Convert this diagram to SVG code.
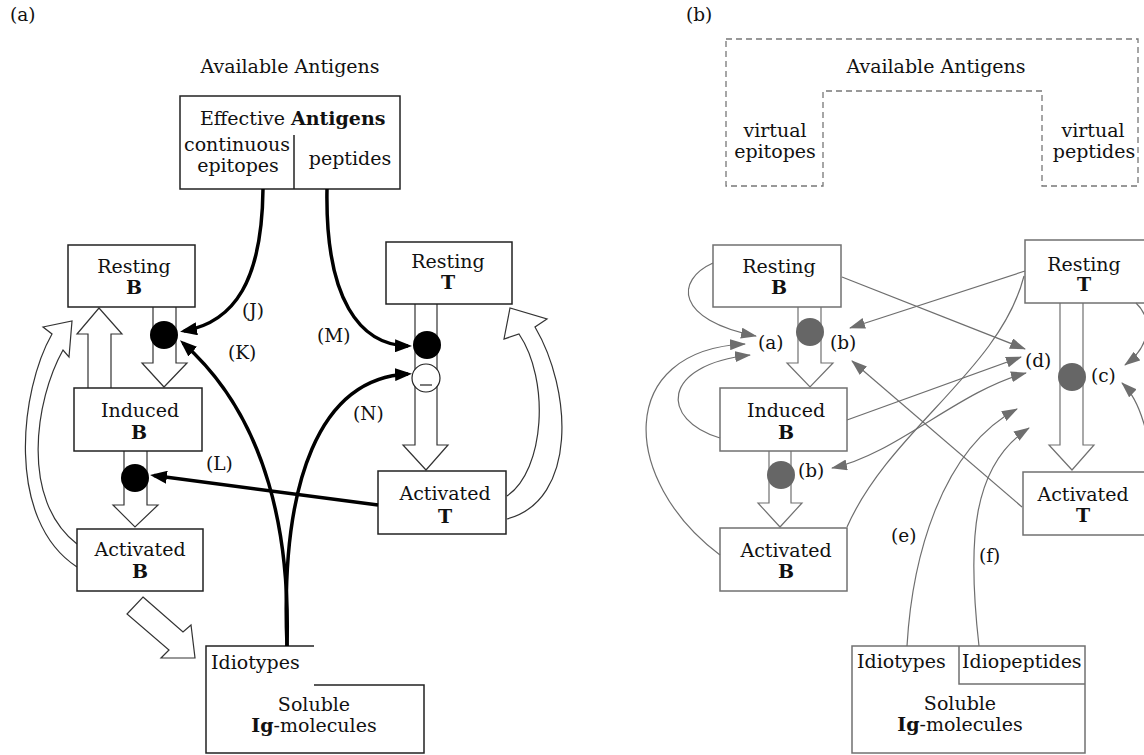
<svg xmlns="http://www.w3.org/2000/svg" width="1144" height="755" viewBox="0 0 1144 755">
<style>
.t{font-family:"DejaVu Serif",serif;font-size:19px;fill:#111}
.c{text-anchor:middle}
.lbl{font-size:18.5px}
.b{font-weight:bold}
.box{fill:#fff;stroke:#222;stroke-width:1.5}
.gbox{fill:#fff;stroke:#707070;stroke-width:1.5}
.stem{fill:#fff;stroke:#333;stroke-width:1.2}
.gstem{fill:#fff;stroke:#707070;stroke-width:1.2}
.thick{fill:none;stroke:#000;stroke-width:3.5;marker-end:url(#ah)}
.gl{fill:none;stroke:#6e6e6e;stroke-width:1.2}
.ga{marker-end:url(#gh)}
</style>
<defs>
<marker id="ah" markerUnits="userSpaceOnUse" markerWidth="17" markerHeight="13" viewBox="0 0 17 13" refX="13" refY="6.5" orient="auto">
<path d="M0,0 L17,6.5 L0,13 z" fill="#000"/>
</marker>
<marker id="gh" markerUnits="userSpaceOnUse" markerWidth="16" markerHeight="11" viewBox="0 0 16 11" refX="15" refY="5.5" orient="auto-start-reverse">
<path d="M0,0 L16,5.5 L0,11 z" fill="#6e6e6e"/>
</marker>
</defs>
<rect width="1144" height="755" fill="#fff"/>

<!-- ===== Panel (a) ===== -->
<text class="t lbl" x="10" y="21">(a)</text>
<text class="t c" x="290" y="73">Available Antigens</text>

<g id="a-antigens">
<rect class="box" x="180" y="96" width="220" height="93"/>
<line x1="294" y1="135" x2="294" y2="189" stroke="#222" stroke-width="1.5"/>
<text class="t" x="200" y="125">Effective <tspan class="b">Antigens</tspan></text>
<text class="t c" x="237" y="151">continuous</text>
<text class="t c" x="238" y="172">epitopes</text>
<text class="t c" x="350" y="165">peptides</text>
</g>

<g id="a-stems">
<path class="stem" d="M153,307 V363 H142 L164,387 L187,363 H176 V307"/>
<path class="stem" d="M88,388 V334 H77 L99,308 L122,334 H111 V388"/>
<path class="stem" d="M124,451 V505 H113 L135,527 L158,505 H147 V451"/>
<path class="stem" d="M415,304 V445 H403 L426,470 L448,445 H437 V304"/>
<path class="stem" d="M77,544 C20,500 35,400 63,350 L69,357 L72,321 L43,327 L52,334 C20,390 5,520 77,567"/>
<path class="stem" d="M507,496 C545,470 550,380 519,334 L504,339 L510,308 L547,319 L535,327 C572,390 578,500 507,519"/>
<path class="stem" d="M143,597 L183,632 L191,625 L195,658 L161,658 L169,650 L127,614 Z"/>
</g>

<g id="a-restingB">
<rect class="box" x="68" y="245" width="127" height="62"/>
<text class="t c" x="134" y="273">Resting</text>
<text class="t c b" x="134" y="294">B</text>
</g>
<g id="a-inducedB">
<rect class="box" x="74" y="388" width="128" height="63"/>
<text class="t c" x="140" y="417">Induced</text>
<text class="t c b" x="139" y="439">B</text>
</g>
<g id="a-activatedB">
<rect class="box" x="77" y="529" width="126" height="62"/>
<text class="t c" x="140" y="556">Activated</text>
<text class="t c b" x="140" y="578">B</text>
</g>
<g id="a-restingT">
<rect class="box" x="386" y="242" width="126" height="62"/>
<text class="t c" x="448" y="268">Resting</text>
<text class="t c b" x="448" y="289">T</text>
</g>
<g id="a-activatedT">
<rect class="box" x="378" y="471" width="128" height="63"/>
<text class="t c" x="445" y="500">Activated</text>
<text class="t c b" x="445" y="523">T</text>
</g>
<g id="a-idiotypes">
<path d="M314,646 H206 V753 H424 V685 H314" fill="#fff" stroke="#222" stroke-width="1.5"/>
<text class="t" x="211" y="669">Idiotypes</text>
<text class="t c" x="314" y="711">Soluble</text>
<text class="t c" x="314" y="732"><tspan class="b">Ig</tspan>-molecules</text>
</g>

<g id="a-circles">
<circle cx="164" cy="335" r="14" fill="#000"/>
<circle cx="135" cy="478" r="14" fill="#000"/>
<circle cx="427" cy="345" r="14" fill="#000"/>
<circle cx="426" cy="378" r="14" fill="#fff" stroke="#222" stroke-width="1.2"/>
<line x1="420" y1="385" x2="432" y2="385" stroke="#222" stroke-width="1.2"/>
</g>

<g id="a-connectors">
<path class="thick" d="M263,189 C262,280 235,322 184,331"/>
<path class="thick" d="M327,189 C325,300 360,345 408,346"/>
<path class="thick" d="M287,646 C290,540 270,420 183,343"/>
<path class="thick" d="M287,646 C280,480 320,378 408,374"/>
<path class="thick" d="M378,505 L154,475.5"/>
<text class="t lbl" x="242" y="317">(J)</text>
<text class="t lbl" x="228" y="359">(K)</text>
<text class="t lbl" x="206" y="470">(L)</text>
<text class="t lbl" x="317" y="342">(M)</text>
<text class="t lbl" x="353" y="420">(N)</text>
</g>

<!-- ===== Panel (b) ===== -->
<text class="t lbl" x="686" y="21">(b)</text>
<g id="b-antigens">
<path d="M726,39 H1138 V186 H1042 V91 H823 V186 H726 Z" fill="none" stroke="#777" stroke-width="1.3" stroke-dasharray="6,4"/>
<text class="t c" x="936" y="73">Available Antigens</text>
<text class="t c" x="775" y="137">virtual</text>
<text class="t c" x="775" y="158">epitopes</text>
<text class="t c" x="1093" y="137">virtual</text>
<text class="t c" x="1094" y="158">peptides</text>
</g>

<g id="b-stems">
<path class="gstem" d="M798,307 V363 H787 L810,387 L833,363 H821 V307"/>
<path class="gstem" d="M769,451 V503 H758 L780,527 L802,503 H791 V451"/>
<path class="gstem" d="M1060,303 V445 H1049 L1072,470 L1094,445 H1083 V303"/>
</g>

<g id="b-restingB">
<rect class="gbox" x="713" y="245" width="128" height="62"/>
<text class="t c" x="779" y="273">Resting</text>
<text class="t c b" x="779" y="294">B</text>
</g>
<g id="b-inducedB">
<rect class="gbox" x="720" y="388" width="127" height="63"/>
<text class="t c" x="786" y="417">Induced</text>
<text class="t c b" x="786" y="439">B</text>
</g>
<g id="b-activatedB">
<rect class="gbox" x="720" y="528" width="127" height="63"/>
<text class="t c" x="786" y="557">Activated</text>
<text class="t c b" x="786" y="578">B</text>
</g>
<g id="b-restingT">
<rect class="gbox" x="1025" y="240" width="130" height="63"/>
<text class="t c" x="1084" y="271">Resting</text>
<text class="t c b" x="1084" y="291">T</text>
</g>
<g id="b-activatedT">
<rect class="gbox" x="1023" y="472" width="132" height="63"/>
<text class="t c" x="1083" y="501">Activated</text>
<text class="t c b" x="1083" y="522">T</text>
</g>
<g id="b-idiotypes">
<rect class="gbox" x="852" y="646" width="233" height="107"/>
<path d="M959,646 V684 H1085" fill="none" stroke="#707070" stroke-width="1.5"/>
<text class="t" x="857" y="668">Idiotypes</text>
<text class="t" x="962" y="668">Idiopeptides</text>
<text class="t c" x="960" y="710">Soluble</text>
<text class="t c" x="960" y="731"><tspan class="b">Ig</tspan>-molecules</text>
</g>

<g id="b-circles" fill="#666">
<circle cx="810" cy="332" r="14"/>
<circle cx="781" cy="475" r="14"/>
<circle cx="1072" cy="377" r="14"/>
</g>

<g id="b-connectors">
<path class="gl ga" d="M713,263 C675,280 675,320 756,336"/>
<path class="gl ga" d="M720,555 C620,480 615,350 745,344"/>
<path class="gl ga" d="M720,438 C660,420 660,365 750,355"/>
<path class="gl ga" d="M842,277 L1025,349"/>
<path class="gl ga" d="M1025,271 L850,328"/>
<path class="gl" d="M1024,276 C1000,370 890,430 847,527"/>
<path class="gl ga" d="M847,420 L1021,357"/>
<path class="gl ga" d="M832,468 C895,455 960,390 1026,373" marker-start="url(#gh)"/>
<path class="gl ga" d="M1022,507 L852,361"/>
<path class="gl ga" d="M907,646 C912,560 940,450 1017,409"/>
<path class="gl ga" d="M979,646 C967,540 972,465 1029,428"/>
<path class="gl ga" d="M1136,303 C1152,318 1152,345 1125,365"/>
<path class="gl ga" d="M1150,475 C1152,440 1140,400 1122,383"/>
<text class="t lbl" x="758" y="349">(a)</text>
<text class="t lbl" x="830" y="349">(b)</text>
<text class="t lbl" x="798" y="477">(b)</text>
<text class="t lbl" x="1091" y="382">(c)</text>
<text class="t lbl" x="1025" y="367">(d)</text>
<text class="t lbl" x="891" y="542">(e)</text>
<text class="t lbl" x="979" y="562">(f)</text>
</g>
</svg>
